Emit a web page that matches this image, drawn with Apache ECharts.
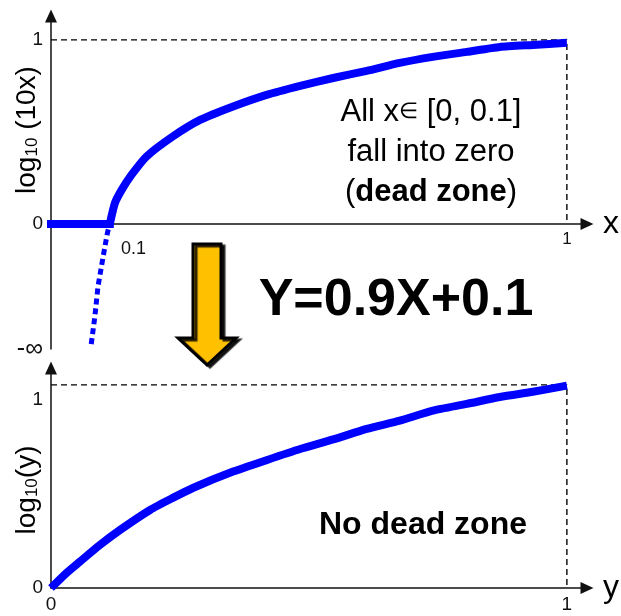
<!DOCTYPE html>
<html>
<head>
<meta charset="utf-8">
<script src="https://cdn.jsdelivr.net/npm/echarts@6/dist/echarts.min.js"></script>
<style>
  html, body { margin: 0; padding: 0; background: #fff; }
  #chart { width: 621px; height: 616px; }
</style>
</head>
<body>
<div id="chart"></div>
<script>
// Upper panel: log10(10x) clamped at zero over the dead zone, then the log curve
const deadZone = [[0, 0], [0.114, 0]];
const logBefore = [
  [0.114, 0], [0.124, 0.114], [0.137, 0.185], [0.156, 0.266], [0.185, 0.366],
  [0.236, 0.475], [0.289, 0.565], [0.353, 0.638], [0.418, 0.701], [0.483, 0.750],
  [0.547, 0.793], [0.612, 0.832], [0.676, 0.875], [0.740, 0.908], [0.806, 0.935],
  [0.870, 0.962], [0.934, 0.973], [1.0, 0.984]
];
// The part of log10(10x) that dives toward -infinity below x = 0.1
const logTail = [
  [0.111, -0.03], [0.109, -0.054], [0.101, -0.179], [0.091, -0.342],
  [0.085, -0.505], [0.077, -0.674]
];
// Lower panel: log10(y) after the shift Y = 0.9X + 0.1
const logAfter = [
  [0, 0], [0.030, 0.080], [0.056, 0.140], [0.095, 0.229], [0.134, 0.309],
  [0.192, 0.415], [0.236, 0.479], [0.275, 0.532], [0.353, 0.619], [0.419, 0.681],
  [0.483, 0.739], [0.547, 0.790], [0.612, 0.846], [0.676, 0.890], [0.740, 0.943],
  [0.806, 0.979], [0.870, 1.016], [0.934, 1.044], [1.0, 1.076]
];
// Dashed guides to the end point of each curve
const topGuide = [[0, 1], [1, 1], [1, 0]];
const bottomGuide = [[0, 1.08], [1, 1.08], [1, 0]];

// Tick positions and their labels
const topYTicks = [-0.68, 0, 1];
const topYTickLabels = ['{inf|-∞}', '0', '1'];
const topXTicks = [0.1, 1];
const topXTickLabels = ['{off|0.1}', '1'];
const bottomYTicks = [0, 1];
const bottomXTicks = [0, 1];

// Axis ranges
const X_MAX = 1.039;
const TOP_Y = [-0.68, 1.13];
const BOTTOM_Y = [0, 1.17];

const FONT = '"Liberation Sans", Arial, Helvetica, sans-serif';
const BLUE = '#0000FF';
const axisLineStyle = { color: '#111', width: 1.5 };
const arrowEnd = { symbol: ['none', 'triangle'], symbolSize: [12, 13] };

function labelFrom(values, labels) {
  return v => {
    const i = values.findIndex(t => Math.abs(t - v) < 1e-9);
    return i >= 0 ? labels[i] : '';
  };
}

function makeXAxis(gridIndex, ticks, formatter, name, offset, labelSize) {
  return {
    type: 'value', gridIndex, min: 0, max: X_MAX, position: 'bottom', offset,
    axisLine: Object.assign({ onZero: false, lineStyle: axisLineStyle }, arrowEnd),
    axisTick: { show: false },
    splitLine: { show: false },
    axisLabel: {
      customValues: ticks, formatter, margin: 7,
      color: '#111', fontSize: labelSize, fontFamily: FONT,
      rich: { off: { fontSize: 18, fontFamily: FONT, color: '#111', padding: [9, 0, 0, 62] } }
    },
    name, nameLocation: 'end', nameGap: 16, nameMoveOverlap: false,
    nameTextStyle: { fontSize: 32, fontFamily: FONT, color: '#000', align: 'left', verticalAlign: 'middle' }
  };
}

function makeYAxis(gridIndex, range, ticks, formatter) {
  return {
    type: 'value', gridIndex, min: range[0], max: range[1],
    axisLine: Object.assign({ onZero: false, lineStyle: axisLineStyle }, arrowEnd),
    axisTick: { show: false },
    splitLine: { show: false },
    axisLabel: {
      customValues: ticks, formatter, margin: 8, color: '#111', fontSize: 19, fontFamily: FONT,
      rich: { inf: { fontSize: 25, fontFamily: FONT, color: '#111' } }
    }
  };
}

function lineSeries(axis, data, style, z, smooth) {
  return {
    type: 'line', xAxisIndex: axis, yAxisIndex: axis, data,
    symbol: 'none', silent: true, animation: false, z, smooth: smooth || false,
    lineStyle: style
  };
}

const chart = echarts.init(document.getElementById('chart'), null, { renderer: 'canvas' });

// the upper x axis runs along log10(10x) = 0, above the bottom of the grid
const TOP_GRID = { left: 51, top: 16, width: 536, height: 333 };
const zeroOffset = -TOP_GRID.height * (0 - TOP_Y[0]) / (TOP_Y[1] - TOP_Y[0]);

const curveStyle = { color: BLUE, width: 8, cap: 'butt', join: 'round' };

chart.setOption({
  backgroundColor: '#fff',
  animation: false,
  grid: [
    Object.assign({ outerBoundsMode: 'none' }, TOP_GRID),
    { left: 51, top: 368, width: 536, height: 220, outerBoundsMode: 'none' }
  ],
  xAxis: [
    makeXAxis(0, topXTicks, labelFrom(topXTicks, topXTickLabels), 'x', zeroOffset, 17),
    makeXAxis(1, bottomXTicks, v => String(Math.round(v)), 'y', 0, 19)
  ],
  yAxis: [
    makeYAxis(0, TOP_Y, topYTicks, labelFrom(topYTicks, topYTickLabels)),
    makeYAxis(1, BOTTOM_Y, bottomYTicks, v => String(Math.round(v)))
  ],
  series: [
    lineSeries(0, topGuide, { color: '#000', width: 1.4, type: [6, 4] }, 1),
    lineSeries(0, deadZone, Object.assign({}, curveStyle, { cap: 'square' }), 3),
    lineSeries(0, logBefore, curveStyle, 3, 0.2),
    lineSeries(0, logTail, { color: BLUE, width: 5, type: [6, 4], cap: 'butt' }, 3),
    lineSeries(1, bottomGuide, { color: '#000', width: 1.4, type: [6, 4] }, 1),
    lineSeries(1, logAfter, curveStyle, 3, 0.2)
  ],
  graphic: [
    // vertical axis titles
    {
      type: 'text', x: 27, y: 130, rotation: Math.PI / 2,
      style: {
        text: 'log{s|10} (10x)', fill: '#000', font: '28px ' + FONT,
        align: 'center', verticalAlign: 'middle',
        rich: { s: { fontSize: 17, fontFamily: FONT, fill: '#000', verticalAlign: 'bottom' } }
      }
    },
    {
      type: 'text', x: 27, y: 490, rotation: Math.PI / 2,
      style: {
        text: 'log{s|10}(y)', fill: '#000', font: '28px ' + FONT,
        align: 'center', verticalAlign: 'middle',
        rich: { s: { fontSize: 17, fontFamily: FONT, fill: '#000', verticalAlign: 'bottom' } }
      }
    },
    // note inside the upper panel
    {
      type: 'text', x: 431, y: 112,
      style: {
        text: 'All x{e|∈} [0, 0.1]', fill: '#000', font: '31px ' + FONT,
        align: 'center', verticalAlign: 'middle',
        rich: { e: { fontSize: 22, fontFamily: FONT, fill: '#000' } }
      }
    },
    {
      type: 'text', x: 431, y: 152,
      style: { text: 'fall into zero', fill: '#000', font: '31px ' + FONT, align: 'center', verticalAlign: 'middle' }
    },
    {
      type: 'text', x: 431, y: 192,
      style: {
        text: '({b|dead zone})', fill: '#000', font: '31px ' + FONT,
        align: 'center', verticalAlign: 'middle',
        rich: { b: { fontSize: 31, fontWeight: 'bold', fontFamily: FONT, fill: '#000' } }
      }
    },
    // note inside the lower panel
    {
      type: 'text', x: 423, y: 525,
      style: { text: 'No dead zone', fill: '#000', font: 'bold 32px ' + FONT, align: 'center', verticalAlign: 'middle' }
    },
    // transformation arrow and formula
    {
      type: 'polygon', z: 10,
      shape: { points: [[193, 244], [221, 244], [221, 338], [236, 338], [207, 365], [178, 338], [193, 338]] },
      style: {
        fill: '#FFC000', stroke: '#000', lineWidth: 3, lineJoin: 'miter',
        shadowColor: 'rgba(0,0,0,0.85)', shadowBlur: 1, shadowOffsetX: 3, shadowOffsetY: 2
      }
    },
    {
      type: 'text', x: 396, y: 301,
      style: { text: 'Y=0.9X+0.1', fill: '#000', font: 'bold 52px ' + FONT, align: 'center', verticalAlign: 'middle' }
    }
  ]
});
</script>
</body>
</html>
